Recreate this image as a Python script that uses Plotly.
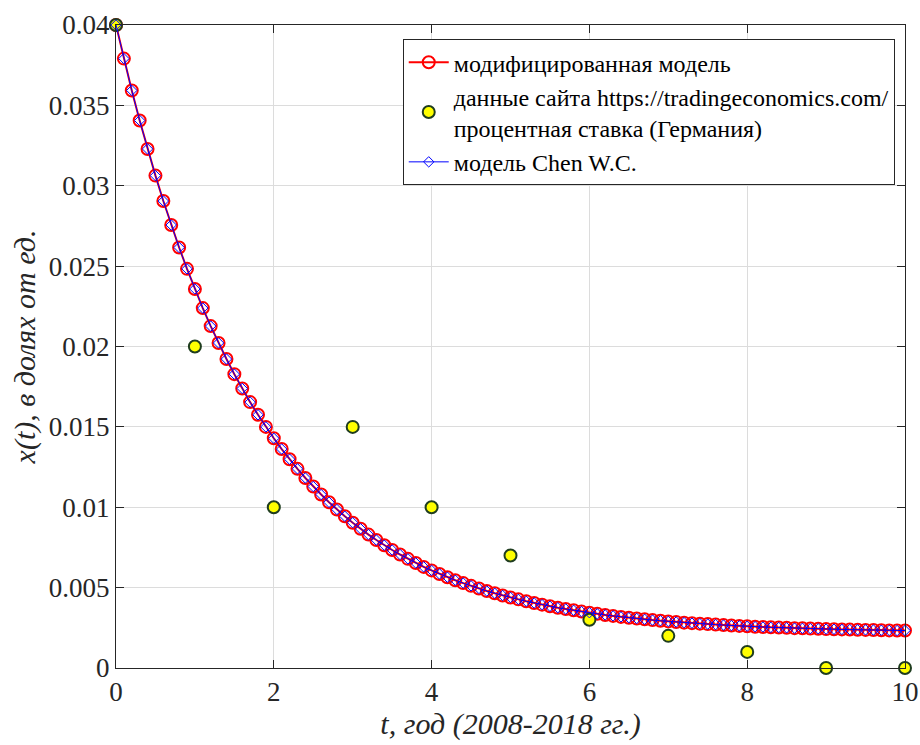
import plotly.graph_objects as go

# time grid (years since 2008), step 0.1
t_model = [round(0.1 * i, 1) for i in range(101)]

# modified model values
modified_model = [
    0.04000, 0.03791, 0.03593, 0.03406, 0.03229, 0.03063, 0.02905, 0.02756, 0.02616, 0.02483,
    0.02358, 0.02239, 0.02127, 0.02022, 0.01922, 0.01828, 0.01739, 0.01654, 0.01575, 0.01500,
    0.01429, 0.01362, 0.01299, 0.01239, 0.01182, 0.01129, 0.01079, 0.01031, 0.00986, 0.00944,
    0.00904, 0.00866, 0.00830, 0.00796, 0.00764, 0.00734, 0.00706, 0.00679, 0.00653, 0.00629,
    0.00607, 0.00585, 0.00565, 0.00546, 0.00528, 0.00511, 0.00495, 0.00479, 0.00465, 0.00451,
    0.00439, 0.00427, 0.00415, 0.00404, 0.00394, 0.00384, 0.00375, 0.00367, 0.00359, 0.00351,
    0.00344, 0.00337, 0.00330, 0.00324, 0.00318, 0.00313, 0.00308, 0.00303, 0.00298, 0.00294,
    0.00290, 0.00286, 0.00282, 0.00279, 0.00276, 0.00273, 0.00270, 0.00267, 0.00264, 0.00262,
    0.00260, 0.00257, 0.00255, 0.00253, 0.00252, 0.00250, 0.00248, 0.00247, 0.00245, 0.00244,
    0.00242, 0.00241, 0.00240, 0.00239, 0.00238, 0.00237, 0.00236, 0.00235, 0.00234, 0.00233,
    0.00233,
]

# Chen W.C. model (visually coincides with modified model)
chen_model = list(modified_model)

# observed data (tradingeconomics.com, Germany)
t_data = [0, 1, 2, 3, 4, 5, 6, 7, 8, 9, 10]
rate_data = [0.04, 0.02, 0.01, 0.015, 0.01, 0.007, 0.003, 0.002, 0.001, 0.0, 0.0]

x_ticks = [0, 2, 4, 6, 8, 10]
y_ticks = [0, 0.005, 0.01, 0.015, 0.02, 0.025, 0.03, 0.035, 0.04]
y_ticktext = ["0", "0.005", "0.01", "0.015", "0.02", "0.025", "0.03", "0.035", "0.04"]

FONT = "'Liberation Serif', 'Times New Roman', serif"
AX = "#262626"

fig = go.Figure()
fig.add_trace(go.Scatter(
    x=t_model, y=modified_model, mode="lines+markers",
    name="модифицированная модель", cliponaxis=False,
    line=dict(color="#ff0000", width=2),
    marker=dict(symbol="circle-open", size=12, color="#ff0000", line=dict(width=2, color="#ff0000")),
))
fig.add_trace(go.Scatter(
    x=t_data, y=rate_data, mode="markers", cliponaxis=False,
    name="данные сайта https://tradingeconomics.com/<br>процентная ставка (Германия)",
    marker=dict(symbol="circle", size=12, color="#ffff00", line=dict(width=2, color="#1f3d1f")),
))
fig.add_trace(go.Scatter(
    x=t_model, y=chen_model, mode="lines+markers", cliponaxis=False,
    name="модель Chen W.C.",
    line=dict(color="#0000ff", width=1),
    marker=dict(symbol="diamond-open", size=8, color="#0000ff", line=dict(width=1, color="#0000ff")),
))

axis_common = dict(
    showline=True, linecolor=AX, linewidth=1, mirror="ticks",
    ticks="inside", ticklen=8, tickcolor=AX, tickwidth=1,
    showgrid=True, gridcolor="#dcdcdc", gridwidth=1,
    zeroline=False, automargin=False,
    tickfont=dict(family=FONT, size=27, color=AX),
)

fig.update_xaxes(
    range=[0, 10], tickvals=x_ticks, ticktext=[str(v) for v in x_ticks],
    title=dict(text="<i>t, год (2008-2018 гг.)</i>", font=dict(family=FONT, size=30, color=AX), standoff=4),
    **axis_common,
)
fig.update_yaxes(
    range=[0, 0.04], tickvals=y_ticks, ticktext=y_ticktext,
    title=dict(text="<i>x(t), в долях от ед.</i>", font=dict(family=FONT, size=30, color=AX), standoff=4),
    **axis_common,
)

fig.update_layout(
    width=920, height=745,
    margin=dict(l=116, r=15, t=25, b=77, autoexpand=False),
    paper_bgcolor="white", plot_bgcolor="white",
    font=dict(family=FONT),
    showlegend=True,
    legend=dict(
        x=0.987, y=0.978, xanchor="right", yanchor="top",
        bgcolor="white", bordercolor=AX, borderwidth=1,
        font=dict(family=FONT, size=24, color="#000000"),
        tracegroupgap=0, itemwidth=40,
    ),
)

fig.write_html("out.html")
